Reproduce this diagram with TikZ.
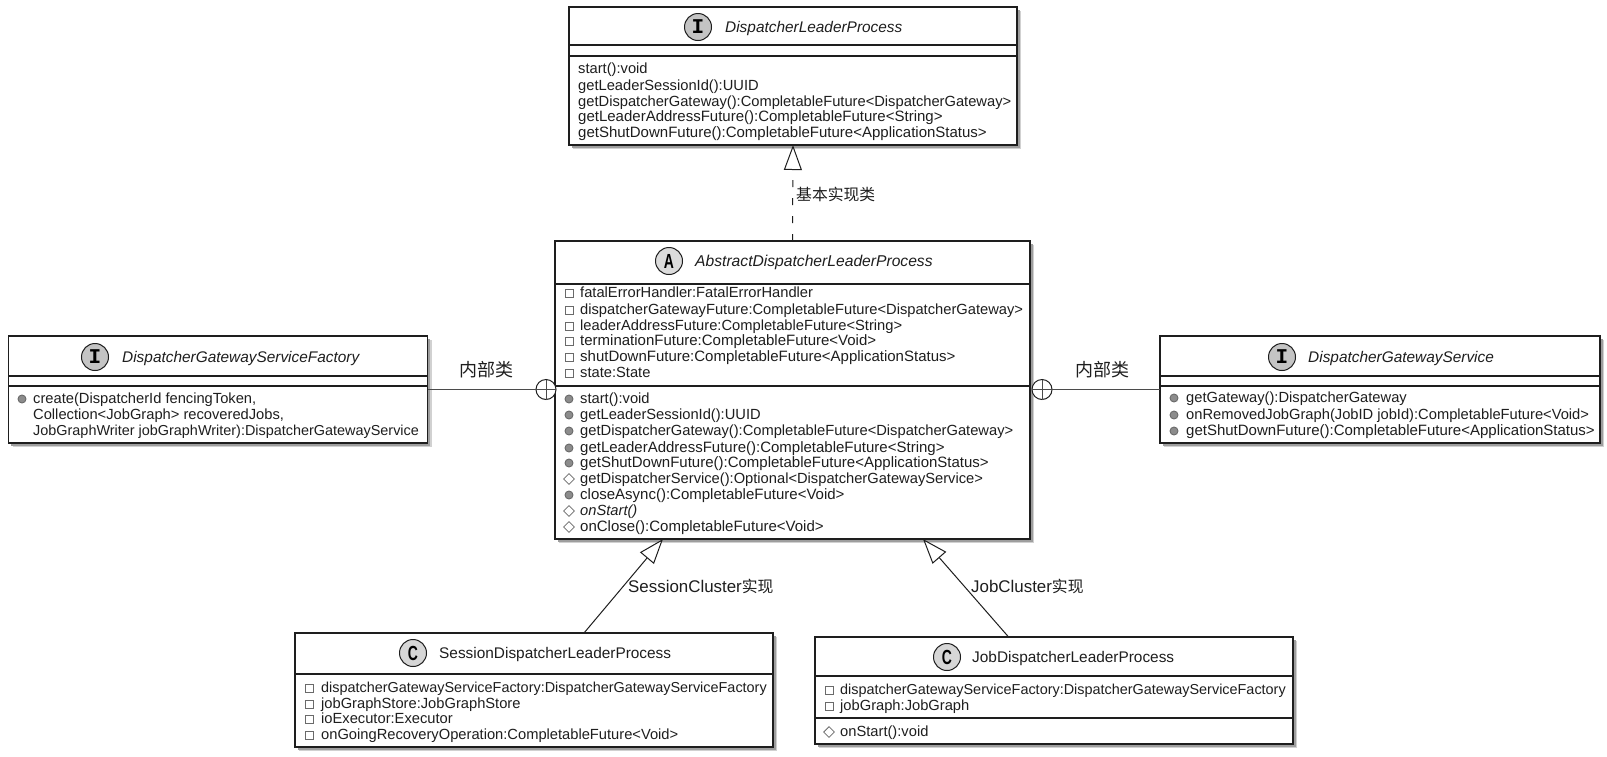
\documentclass[tikz,border=0pt]{standalone}
\usepackage{fontspec}
\usepackage{graphicx}
\setmainfont{Liberation Sans}
\newfontfamily\cjk{Noto Sans CJK SC}
\newfontfamily\spotmono{Liberation Mono}
\usetikzlibrary{shapes.geometric,arrows.meta,shadows,calc}
\definecolor{ink}{HTML}{1E1E1E}
\definecolor{spotfill}{HTML}{C4C4C4}
\definecolor{iconline}{HTML}{6A6A6A}
\definecolor{iconfill}{HTML}{8C8C8C}
\newcounter{memno}
\newcommand{\mem}[5]{%
  \stepcounter{memno}%
  \node[#1] (icon-\arabic{memno}) at (#2,#4) {};
  \node[memtext] (text-\arabic{memno}) at (#3,#4+4.9) {#5};
}
\newcommand{\plainmem}[3]{%
  \stepcounter{memno}%
  \node[memtext] (text-\arabic{memno}) at (#1,#2+4.9) {#3};
}
\newcommand{\memwide}{\fontsize{15}{16}\selectfont}
\newcommand{\memtight}{\fontsize{14.42}{16}\selectfont}
\newcommand{\spotI}{\spotmono\bfseries\fontsize{21}{21}\selectfont I}
\newcommand{\spotL}[1]{\bfseries\fontsize{17}{17}\selectfont\scalebox{0.82}[1.2]{#1}}
\tikzset{
  x=1pt,y=-1pt,
  umlbox/.style={draw=ink,line width=1.8pt,fill=white,inner sep=0pt,outer sep=0pt,
    general shadow={fill=black!18,shadow xshift=4pt,shadow yshift=-4pt},
    general shadow={fill=black!38,shadow xshift=2.5pt,shadow yshift=-2.5pt}},
  divider/.style={draw=ink,line width=1.1pt},
  spot/.style={circle,draw=ink,line width=1pt,fill=spotfill,minimum size=27pt,inner sep=0pt},
  titletext/.style={anchor=base west,inner sep=0pt,text=ink,font=\fontsize{15.4}{18}\selectfont},
  memtext/.style={anchor=base west,inner sep=0pt,text=ink,font=\fontsize{14.7}{16}\selectfont},
  privicon/.style={rectangle,draw=iconline,line width=.9pt,fill=white,minimum size=8pt,inner sep=0pt},
  pubicon/.style={circle,draw=iconline,line width=.9pt,fill=iconfill,minimum size=8pt,inner sep=0pt},
  proticon/.style={diamond,draw=iconline,line width=.8pt,fill=white,minimum size=11pt,inner sep=0pt},
  realize/.style={draw=ink,line width=1pt,-{Triangle[open,fill=white,length=25pt,width=18pt,line width=1pt]}},
  nestcircle/.style={circle,draw=ink,line width=1pt,fill=white,minimum size=20pt,inner sep=0pt,outer sep=0pt},
  nestline/.style={draw=ink!80,line width=1pt},
  edgelabel/.style={anchor=base west,inner sep=0pt,text=ink,font=\fontsize{16.9}{18}\selectfont},
  nestlabel/.style={inner sep=0pt,text=ink,font=\fontsize{18}{20}\selectfont\cjk},
}
\newcommand{\cjklabel}[1]{{\cjk\fontsize{15.8}{18}\selectfont #1}}
\begin{document}
\begin{tikzpicture}
\useasboundingbox (0,0) rectangle (1607,756);
\fill[white] (0,0) rectangle (1607,756);

% boxes
\node[umlbox,minimum width=448pt,minimum height=138pt] (dlp) at (793,76) {};
\node[umlbox,minimum width=475pt,minimum height=298pt] (adlp) at (792.5,390) {};
\node[umlbox,minimum width=419pt,minimum height=107pt] (fact) at (218,389.5) {};
\node[umlbox,minimum width=440pt,minimum height=107pt] (serv) at (1380,389.5) {};
\node[umlbox,minimum width=478pt,minimum height=114pt] (sess) at (534,690) {};
\node[umlbox,minimum width=478pt,minimum height=107pt] (jobp) at (1054,690.5) {};

% dividers
\draw[divider] (dlp.west |- 0,45) -- (dlp.east |- 0,45);
\draw[divider] (dlp.west |- 0,56) -- (dlp.east |- 0,56);
\draw[divider] (adlp.west |- 0,284) -- (adlp.east |- 0,284);
\draw[divider] (adlp.west |- 0,386) -- (adlp.east |- 0,386);
\draw[divider] (fact.west |- 0,376) -- (fact.east |- 0,376);
\draw[divider] (fact.west |- 0,386) -- (fact.east |- 0,386);
\draw[divider] (serv.west |- 0,376) -- (serv.east |- 0,376);
\draw[divider] (serv.west |- 0,386) -- (serv.east |- 0,386);
\draw[divider] (sess.west |- 0,674) -- (sess.east |- 0,674);
\draw[divider] (jobp.west |- 0,676) -- (jobp.east |- 0,676);
\draw[divider] (jobp.west |- 0,718) -- (jobp.east |- 0,718);

% title spots and names
\node[spot] (spot-dlp) at (698,27) {\spotI};
\node[titletext] (name-dlp) at (725,32) {\itshape DispatcherLeaderProcess};
\node[spot,fill=spotfill!60] (spot-adlp) at (669,261) {\spotL{A}};
\node[titletext,font=\fontsize{15.65}{18}\selectfont] (name-adlp) at (695,266) {\itshape AbstractDispatcherLeaderProcess};
\node[spot] (spot-fact) at (95,357) {\spotI};
\node[titletext] (name-fact) at (122,362) {\itshape DispatcherGatewayServiceFactory};
\node[spot] (spot-serv) at (1282,357) {\spotI};
\node[titletext] (name-serv) at (1308,362) {\itshape DispatcherGatewayService};
\node[spot,fill=spotfill!70] (spot-sess) at (413,653) {\spotL{C}};
\node[titletext] (name-sess) at (439,658) {SessionDispatcherLeaderProcess};
\node[spot,fill=spotfill!70] (spot-jobp) at (947,657) {\spotL{C}};
\node[titletext] (name-jobp) at (972,662) {JobDispatcherLeaderProcess};

% DispatcherLeaderProcess members
\plainmem{578}{69}{start():void}
\plainmem{578}{86}{getLeaderSessionId():UUID}
\plainmem{578}{102}{getDispatcherGateway():CompletableFuture<DispatcherGateway>}
\plainmem{578}{117}{\memwide getLeaderAddressFuture():CompletableFuture<String>}
\plainmem{578}{133}{\memwide getShutDownFuture():CompletableFuture<ApplicationStatus>}

% AbstractDispatcherLeaderProcess members
\mem{privicon}{569}{580}{293}{fatalErrorHandler:FatalErrorHandler}
\mem{privicon}{569}{580}{310}{dispatcherGatewayFuture:CompletableFuture<DispatcherGateway>}
\mem{privicon}{569}{580}{326}{leaderAddressFuture:CompletableFuture<String>}
\mem{privicon}{569}{580}{341}{\memwide terminationFuture:CompletableFuture<Void>}
\mem{privicon}{569}{580}{357}{\memwide shutDownFuture:CompletableFuture<ApplicationStatus>}
\mem{privicon}{569}{580}{373}{state:State}
\mem{pubicon}{569}{580}{399}{start():void}
\mem{pubicon}{569}{580}{415}{getLeaderSessionId():UUID}
\mem{pubicon}{569}{580}{431}{getDispatcherGateway():CompletableFuture<DispatcherGateway>}
\mem{pubicon}{569}{580}{448}{\memwide getLeaderAddressFuture():CompletableFuture<String>}
\mem{pubicon}{569}{580}{463}{\memwide getShutDownFuture():CompletableFuture<ApplicationStatus>}
\mem{proticon}{569}{580}{479}{getDispatcherService():Optional<DispatcherGatewayService>}
\mem{pubicon}{569}{580}{495}{\memwide closeAsync():CompletableFuture<Void>}
\mem{proticon}{569}{580}{511}{\itshape onStart()}
\mem{proticon}{569}{580}{527}{\memwide onClose():CompletableFuture<Void>}

% DispatcherGatewayServiceFactory members
\mem{pubicon}{22}{33}{399}{create(DispatcherId fencingToken,}
\plainmem{33}{415}{Collection<JobGraph> recoveredJobs,}
\plainmem{33}{431}{\memtight JobGraphWriter jobGraphWriter):DispatcherGatewayService}

% DispatcherGatewayService members
\mem{pubicon}{1174}{1186}{398}{getGateway():DispatcherGateway}
\mem{pubicon}{1174}{1186}{415}{onRemovedJobGraph(JobID jobId):CompletableFuture<Void>}
\mem{pubicon}{1174}{1186}{431}{\memwide getShutDownFuture():CompletableFuture<ApplicationStatus>}

% SessionDispatcherLeaderProcess members
\mem{privicon}{309}{321}{688}{\memtight dispatcherGatewayServiceFactory:DispatcherGatewayServiceFactory}
\mem{privicon}{309}{321}{704}{jobGraphStore:JobGraphStore}
\mem{privicon}{309}{321}{719}{ioExecutor:Executor}
\mem{privicon}{309}{321}{735}{onGoingRecoveryOperation:CompletableFuture<Void>}

% JobDispatcherLeaderProcess members
\mem{privicon}{829}{840}{690}{\memtight dispatcherGatewayServiceFactory:DispatcherGatewayServiceFactory}
\mem{privicon}{829}{840}{706}{jobGraph:JobGraph}
\mem{proticon}{829}{840}{732}{onStart():void}

% connectors
\coordinate (sessfoot) at ($(sess.north west)!0.6046!(sess.north east)$);
\coordinate (jobfoot) at ($(jobp.north west)!0.4050!(jobp.north east)$);
\coordinate (adlptipl) at ($(adlp.south west)!0.2274!(adlp.south east)$);
\coordinate (adlptipr) at ($(adlp.south west)!0.7747!(adlp.south east)$);

\draw[realize,dash pattern=on 7pt off 11pt] (adlp.north) -- (dlp.south);
\draw[realize] (sessfoot) -- (adlptipl);
\draw[realize] (jobfoot) -- (adlptipr);

\node[nestcircle] (nestl) at (546,389.5) {};
\node[nestcircle] (nestr) at (1042,389.5) {};
\draw[nestline] (fact.east) -- (nestl.east);
\draw[nestline] (nestl.north) -- (nestl.south);
\draw[nestline] (serv.west) -- (nestr.west);
\draw[nestline] (nestr.north) -- (nestr.south);

% connector labels
\node[nestlabel] (lab-l) at (486,370) {内部类};
\node[nestlabel] (lab-r) at (1102,370) {内部类};
\node[edgelabel] (lab-base) at (796,200.5) {\cjklabel{基本实现类}};
\node[edgelabel] (lab-sess) at (628,592) {SessionCluster\cjklabel{实现}};
\node[edgelabel] (lab-job) at (971,592) {JobCluster\cjklabel{实现}};
\end{tikzpicture}
\end{document}
